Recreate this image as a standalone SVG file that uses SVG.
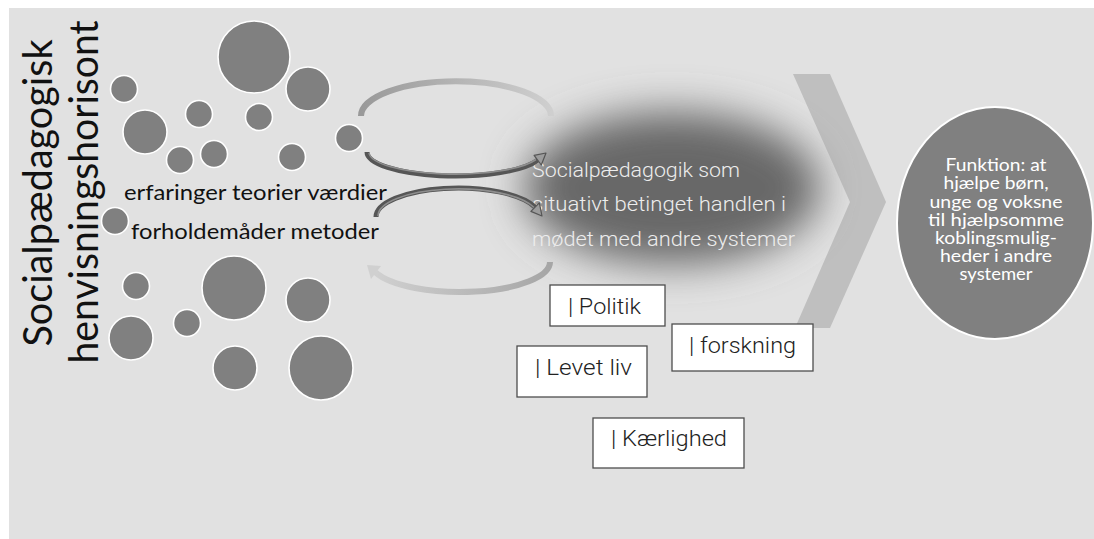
<svg xmlns="http://www.w3.org/2000/svg" width="1094" height="539" viewBox="0 0 1094 539">
  <style>
    .bubble { fill: #808080; stroke: #ffffff; stroke-width: 1.6; }
    .calibri { font-family: Lato, "Open Sans", "Liberation Sans", sans-serif; }
    .thin { font-family: Roboto, "Liberation Sans", sans-serif; font-weight: 300; }
    .box { fill: #ffffff; stroke: #4d4d4d; stroke-width: 1.3; }
    .boxtxt { font-size: 22px; fill: #222222; }
    .darkarc { fill: none; stroke: #565656; stroke-width: 5; }
    .darkarc-core { fill: none; stroke: #8e8e8e; stroke-width: 1.6; }
    .darkhead { fill: #9c9c9c; stroke: #555555; stroke-width: 1.2; stroke-linejoin: round; }
  </style>
  <defs>
    <filter id="soft" x="-40%" y="-60%" width="180%" height="220%">
      <feGaussianBlur stdDeviation="20"/>
    </filter>
    <linearGradient id="arcTop" x1="361" y1="0" x2="551" y2="0" gradientUnits="userSpaceOnUse">
      <stop offset="0" stop-color="#999999"/>
      <stop offset="1" stop-color="#cfcfcf"/>
    </linearGradient>
    <linearGradient id="arcBottom" x1="550" y1="0" x2="368" y2="0" gradientUnits="userSpaceOnUse">
      <stop offset="0" stop-color="#a6a6a6"/>
      <stop offset="1" stop-color="#d2d2d2"/>
    </linearGradient>
  </defs>

  <!-- canvas -->
  <rect x="0" y="0" width="1094" height="539" fill="#ffffff"/>
  <rect x="9" y="8" width="1085" height="531" fill="#e1e1e1"/>

  <!-- horizon: scattered bubbles -->
  <g id="bubbles">
    <circle class="bubble" cx="254" cy="57" r="36"/>
    <circle class="bubble" cx="308" cy="89" r="22"/>
    <circle class="bubble" cx="124" cy="89" r="13.5"/>
    <circle class="bubble" cx="145" cy="132" r="22"/>
    <circle class="bubble" cx="199" cy="114" r="13.5"/>
    <circle class="bubble" cx="259" cy="117" r="13.5"/>
    <circle class="bubble" cx="180" cy="160" r="13.5"/>
    <circle class="bubble" cx="214" cy="154" r="13.5"/>
    <circle class="bubble" cx="292" cy="157" r="13.5"/>
    <circle class="bubble" cx="349" cy="138" r="13.5"/>
    <circle class="bubble" cx="115" cy="221" r="13.5"/>
    <circle class="bubble" cx="136" cy="286" r="13.5"/>
    <circle class="bubble" cx="234" cy="288" r="32"/>
    <circle class="bubble" cx="308" cy="300" r="22"/>
    <circle class="bubble" cx="131" cy="338" r="22"/>
    <circle class="bubble" cx="187" cy="323" r="13.5"/>
    <circle class="bubble" cx="235" cy="368" r="22"/>
    <circle class="bubble" cx="321" cy="368" r="32"/>
  </g>

  <!-- vertical title -->
  <g id="title" class="calibri" fill="#111111" font-size="41" text-anchor="middle">
    <text transform="translate(52,193) rotate(-90)" textLength="307" lengthAdjust="spacingAndGlyphs">Socialpædagogisk</text>
    <text transform="translate(98,192) rotate(-90)" textLength="343" lengthAdjust="spacingAndGlyphs">henvisningshorisont</text>
  </g>

  <!-- horizon contents -->
  <g id="horizon-text" class="calibri" fill="#111111" font-size="21">
    <text x="124" y="200" textLength="263" lengthAdjust="spacingAndGlyphs">erfaringer teorier værdier</text>
    <text x="131" y="239" textLength="248" lengthAdjust="spacingAndGlyphs">forholdemåder metoder</text>
  </g>

  <!-- central practice field -->
  <g id="practice">
    <ellipse cx="672" cy="188" rx="148" ry="76" fill="#686868" filter="url(#soft)"/>
    <g class="thin" fill="#ededed" font-size="19.5">
      <text x="532" y="177" textLength="208" lengthAdjust="spacingAndGlyphs">Socialpædagogik som</text>
      <text x="532" y="211" textLength="254" lengthAdjust="spacingAndGlyphs">situativt betinget handlen i</text>
      <text x="532" y="246" textLength="263" lengthAdjust="spacingAndGlyphs">mødet med andre systemer</text>
    </g>
  </g>

  <!-- connectors: circular arrows and chevron -->
  <g id="connectors">
    <path d="M 361 116 A 93 34 0 0 1 551 116" fill="none" stroke="url(#arcTop)" stroke-width="6"/>
    <path d="M 550 262 A 90 30 0 0 1 375.4 272.3" fill="none" stroke="url(#arcBottom)" stroke-width="6"/>
    <polygon points="367,265 381,266 371,279" fill="#d0d0d0"/>

    <path class="darkarc" d="M 367 152 A 88 24 0 0 0 537.7 160.2"/>
    <path class="darkarc-core" d="M 369 153 A 86 22 0 0 0 536 159.5"/>
    <polygon class="darkhead" points="546,153 541.3,165 534.1,155.4"/>

    <path class="darkarc" d="M 376 217 A 82 29 0 0 1 535.1 207.1"/>
    <path class="darkarc-core" d="M 378 216 A 80 27 0 0 1 534 207.5"/>
    <polygon class="darkhead" points="542,216 539.3,202.8 530.9,211.4"/>

    <polygon points="793,74 830,74 886,202 830,328 795,328 850,202" fill="#a8a8a8" fill-opacity="0.6"/>
  </g>

  <!-- function node -->
  <g id="function">
    <ellipse cx="995" cy="223" rx="98" ry="116" fill="#808080" stroke="#ffffff" stroke-width="2"/>
    <g class="calibri" fill="#ffffff" font-size="18" text-anchor="middle">
      <text x="996" y="171" textLength="101" lengthAdjust="spacingAndGlyphs">Funktion: at</text>
      <text x="996" y="189" textLength="105" lengthAdjust="spacingAndGlyphs">hjælpe børn,</text>
      <text x="996" y="207.5" textLength="133" lengthAdjust="spacingAndGlyphs">unge og voksne</text>
      <text x="996" y="225.5" textLength="136" lengthAdjust="spacingAndGlyphs">til hjælpsomme</text>
      <text x="996" y="244" textLength="122" lengthAdjust="spacingAndGlyphs">koblingsmulig-</text>
      <text x="996" y="262" textLength="112" lengthAdjust="spacingAndGlyphs">heder i andre</text>
      <text x="996" y="280" textLength="73" lengthAdjust="spacingAndGlyphs">systemer</text>
    </g>
  </g>

  <!-- influence boxes -->
  <g id="box-politik">
    <rect class="box" x="550" y="285" width="115" height="41"/>
    <text class="thin boxtxt" x="568" y="314" textLength="73" lengthAdjust="spacingAndGlyphs">| Politik</text>
  </g>
  <g id="box-forskning">
    <rect class="box" x="672" y="324" width="141" height="47"/>
    <text class="thin boxtxt" x="689" y="353" textLength="107" lengthAdjust="spacingAndGlyphs">| forskning</text>
  </g>
  <g id="box-levet-liv">
    <rect class="box" x="517" y="346" width="130" height="51"/>
    <text class="thin boxtxt" x="535" y="375" textLength="97" lengthAdjust="spacingAndGlyphs">| Levet liv</text>
  </g>
  <g id="box-kaerlighed">
    <rect class="box" x="593" y="418" width="151" height="50"/>
    <text class="thin boxtxt" x="611" y="446" textLength="116" lengthAdjust="spacingAndGlyphs">| Kærlighed</text>
  </g>
</svg>
